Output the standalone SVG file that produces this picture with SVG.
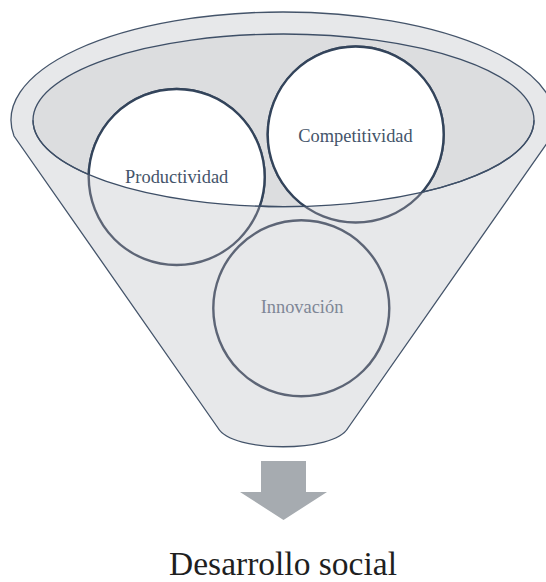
<svg xmlns="http://www.w3.org/2000/svg" width="546" height="582" viewBox="0 0 546 582">
  <style>
    .funnel { fill: #E7E8EA; stroke: #44546A; stroke-width: 1.3; }
    .bowl { fill: #DCDDDF; stroke: #3E4F67; stroke-width: 1.3; }
    .rim { fill: none; stroke: #3E4F67; stroke-width: 1.3; }
    .c-front { fill: #E7E8EA; stroke: #5D6576; stroke-width: 2.4; }
    .c-back { fill: #FFFFFF; stroke: #33445B; stroke-width: 2.4; }
    .lbl { font-family: 'Liberation Serif', serif; font-size: 18.4px; text-anchor: middle; }
    .dark { fill: #44546A; }
    .light { fill: #7E8696; }
    .arrow { fill: #A6ABB0; }
    .title { font-family: 'Liberation Serif', serif; font-size: 33.5px; fill: #1F1F1F; text-anchor: middle; }
  </style>
  <defs>
    <clipPath id="upper">
      <rect x="0" y="0" width="546" height="120.3"/>
      <ellipse cx="283.5" cy="120.3" rx="250.5" ry="86.3"/>
    </clipPath>
  </defs>
  <rect width="546" height="582" fill="#FFFFFF"/>
  <g id="funnel">
    <path class="funnel" d="M 14,136 A 272 108 0 1 1 552,136 L 348,428 C 334,453 232,453 218,428 Z"/>
    <ellipse class="bowl" cx="283.5" cy="120.3" rx="250.5" ry="86.3"/>
  </g>
  <g id="node-innovacion">
    <circle class="c-front" cx="301.3" cy="308.3" r="88"/>
    <text class="lbl light" x="302" y="313">Innovación</text>
  </g>
  <g id="node-productividad">
    <circle class="c-front" cx="176.7" cy="177" r="88"/>
    <circle class="c-back" cx="176.7" cy="177" r="88" clip-path="url(#upper)"/>
    <text class="lbl dark" x="176.7" y="183">Productividad</text>
  </g>
  <g id="node-competitividad">
    <circle class="c-front" cx="355.7" cy="134.5" r="88"/>
    <circle class="c-back" cx="355.7" cy="134.5" r="88" clip-path="url(#upper)"/>
    <text class="lbl dark" x="355.5" y="141.5">Competitividad</text>
  </g>
  <g id="funnel-rim">
    <path class="rim" d="M 33,120.3 A 250.5 86.3 0 0 0 534,120.3"/>
  </g>
  <g id="connectors">
    <polygon class="arrow" points="261,461 306,461 306,492 327,492 283.5,520 240,492 261,492"/>
  </g>
  <g id="node-desarrollo">
    <text class="title" x="283" y="574.5">Desarrollo social</text>
  </g>
</svg>
